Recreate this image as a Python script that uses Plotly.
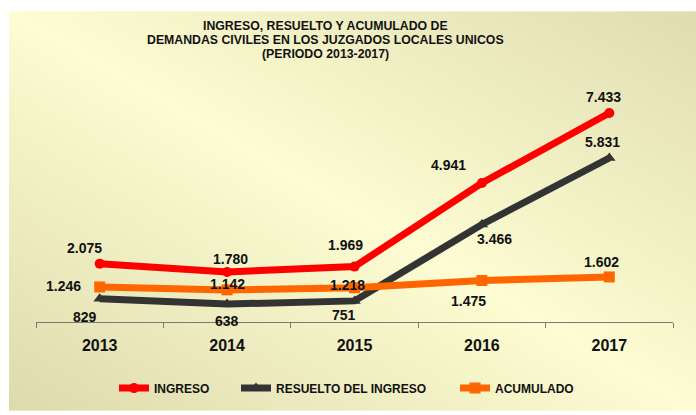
import base64
import plotly.graph_objects as go

# ---- data ----
years = ["2013", "2014", "2015", "2016", "2017"]
ingreso = [2075, 1780, 1969, 4941, 7433]
resuelto = [829, 638, 751, 3466, 5831]
acumulado = [1246, 1142, 1218, 1475, 1602]

series_names = ["INGRESO", "RESUELTO DEL INGRESO", "ACUMULADO"]
title_lines = [
    "INGRESO, RESUELTO Y ACUMULADO DE",
    "DEMANDAS CIVILES EN LOS JUZGADOS LOCALES UNICOS",
    "(PERIODO 2013-2017)",
]

# label offsets in pixels (dx right, dy down) for each data label
ingreso_off = [(-15, -16), (3, -13), (-9, -22), (-33, -18), (-6, -16)]
resuelto_off = [(-15, 18), (0, 17), (-11, 14), (13, 14), (-7, -16)]
acumulado_off = [(-36, -1), (0, -6), (-7, -3), (-13, 20), (-8, -15)]

FONT = "Liberation Sans, Arial, sans-serif"
W, H = 696, 415
ML, MR, MT, MB = 36, 23, 97, 90
PW, PH = W - ML - MR, H - MT - MB


def fmt(v):
    return f"{v:,}".replace(",", ".")


def px_x(px):
    return (px - ML) / PW


def px_y(py):
    return (H - MB - py) / PH


fig = go.Figure()

styles = [
    (ingreso, "#FF0000", "circle", 10, "legend"),
    (resuelto, "#333333", "triangle-up", 11, "legend2"),
    (acumulado, "#FF6600", "square", 11, "legend3"),
]
for name, (vals, color, sym, size, leg) in zip(series_names, styles):
    fig.add_trace(go.Scatter(
        x=years, y=vals, name=name, mode="lines+markers",
        line=dict(color=color, width=7),
        marker=dict(symbol=sym, size=size, color=color),
        legend=leg, hoverinfo="skip",
    ))

annotations = []
for vals, offs in [(ingreso, ingreso_off), (resuelto, resuelto_off), (acumulado, acumulado_off)]:
    for i, (v, (dx, dy)) in enumerate(zip(vals, offs)):
        # category axis: position by category index
        annotations.append(dict(
            x=i, y=v, xref="x", yref="y", text=fmt(v), showarrow=False,
            xanchor="center", yanchor="middle", xshift=dx, yshift=-dy,
            font=dict(family=FONT, size=14, color="#111111", weight="bold"),
        ))

for line, py in zip(title_lines, [25, 39, 53]):
    annotations.append(dict(
        x=px_x(325), y=px_y(py), xref="paper", yref="paper", text=line,
        showarrow=False, xanchor="center", yanchor="middle",
        font=dict(family=FONT, size=12.3, color="#111111", weight="bold"),
    ))

# background panel with diagonal gradient
svg = (
    '<svg xmlns="http://www.w3.org/2000/svg" width="687" height="405" '
    'preserveAspectRatio="none" viewBox="0 0 687 405">'
    '<defs><linearGradient id="g" x1="0" y1="1" x2="1" y2="0">'
    '<stop offset="0" stop-color="#DDDBAD"/>'
    '<stop offset="0.5" stop-color="#FDFCD2"/>'
    '<stop offset="1" stop-color="#DFDDB0"/>'
    '</linearGradient></defs>'
    '<rect width="687" height="405" fill="url(#g)"/></svg>'
)
bg_src = "data:image/svg+xml;base64," + base64.b64encode(svg.encode()).decode()

legend_common = dict(
    orientation="h", yanchor="middle", xanchor="left", bgcolor="rgba(0,0,0,0)",
    font=dict(family=FONT, size=12, color="#111111", weight="bold"),
    y=px_y(392),
)

fig.update_layout(
    width=W, height=H,
    margin=dict(l=ML, r=MR, t=MT, b=MB),
    paper_bgcolor="white", plot_bgcolor="rgba(0,0,0,0)",
    showlegend=True,
    legend=dict(legend_common, x=px_x(114)),
    legend2=dict(legend_common, x=px_x(236)),
    legend3=dict(legend_common, x=px_x(455)),
    images=[dict(
        source=bg_src, xref="paper", yref="paper",
        x=px_x(9), y=px_y(10), sizex=687 / PW, sizey=405 / PH,
        xanchor="left", yanchor="top", sizing="stretch", layer="below",
    )],
    annotations=annotations,
    xaxis=dict(
        type="category", range=[-0.5, 4.5], tickson="boundaries",
        ticks="outside", ticklen=5, tickcolor="#7a7a70",
        showline=True, linecolor="#7a7a70", linewidth=1,
        showgrid=False, zeroline=False, fixedrange=True,
        ticklabelstandoff=9,
        tickfont=dict(family=FONT, size=16, color="#111111", weight="bold"),
    ),
    yaxis=dict(range=[0, 8000], visible=False, fixedrange=True),
)

fig.write_html("out.html")
